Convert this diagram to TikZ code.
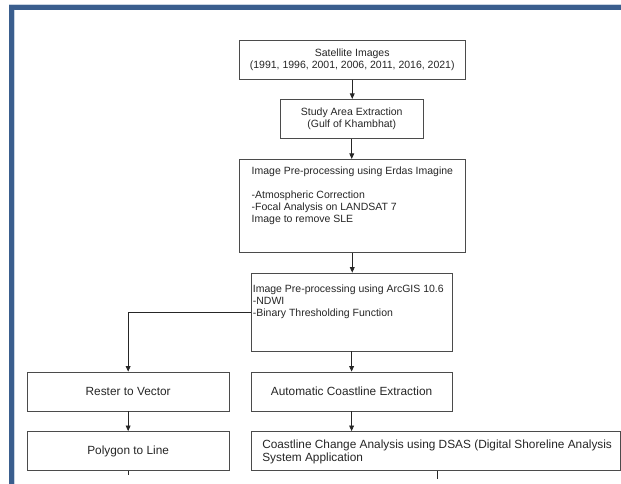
\documentclass[tikz,border=0pt]{standalone}
\usepackage{fontspec}
\setmainfont{Liberation Sans}
\usetikzlibrary{arrows.meta}
\definecolor{frameblue}{RGB}{58,94,142}
\definecolor{framelight}{RGB}{200,212,226}
\definecolor{edgegray}{RGB}{75,75,75}
\definecolor{textgray}{RGB}{38,38,38}
\begin{document}
\begin{tikzpicture}[x=1pt,y=-1pt,
  box/.style={draw=edgegray, line width=0.8pt, inner sep=0pt, text=textgray,
    font=\fontsize{10.5}{12.2}\selectfont},
  bigbox/.style={box, font=\fontsize{11.85}{13.3}\selectfont},
  txt/.style={inner sep=0pt, text=textgray, align=left,
    font=\fontsize{10.5}{12}\selectfont},
  bigtxt/.style={txt, font=\fontsize{11.85}{13.3}\selectfont},
  conn/.style={draw=black!85, line width=0.75pt},
  arr/.style={conn, -{Triangle[length=5.5pt,width=4.8pt]}}]
\useasboundingbox (0,0) rectangle (621,484);
\fill[white] (0,0) rectangle (621,484);
% frame
\draw[framelight, line width=1pt] (9,4.2) -- (621,4.2);
\fill[frameblue] (9,5) rectangle (621,9.6);
\fill[frameblue] (9,5) rectangle (14,484);
\draw[framelight, line width=0.8pt] (14.4,9.6) -- (14.4,484);
% boxes
\node[box, minimum width=226.5pt, minimum height=39pt, align=center] (b1) at (352.25,59.8)
  {Satellite Images\\(1991, 1996, 2001, 2006, 2011, 2016, 2021)};
\node[box, minimum width=143.5pt, minimum height=39.2pt, align=center] (b2) at (351.75,118.9)
  {Study Area Extraction\\(Gulf of Khambhat)};
\node[box, minimum width=226.5pt, minimum height=93.4pt] (b3) at (352.25,206) {};
\node[txt, anchor=north west] (t3) at ([xshift=12.9pt,yshift=-8pt]b3.north west)
  {Image Pre-processing using Erdas Imagine\\[11.5pt]-Atmospheric Correction\\-Focal Analysis on LANDSAT 7\\Image to remove SLE};
\node[box, minimum width=201pt, minimum height=78pt] (b4) at (351.6,312) {};
\node[txt, anchor=north west] (t4) at ([xshift=2pt,yshift=-11.6pt]b4.north west)
  {Image Pre-processing using ArcGIS 10.6\\-NDWI\\-Binary Thresholding Function};
\node[bigbox, minimum width=201.7pt, minimum height=39pt] (b5) at (128.15,391.5) {Rester to Vector};
\node[bigbox, minimum width=201pt, minimum height=39pt] (b6) at (351.6,391.5) {Automatic Coastline Extraction};
\node[bigbox, minimum width=201.7pt, minimum height=39pt] (b7) at (128.15,451) {Polygon to Line};
\node[box, minimum width=369.3pt, minimum height=39pt] (b8) at (435.6,451) {};
\node[bigtxt, anchor=west] (t8) at ([xshift=11.5pt,yshift=-0.6pt]b8.west)
  {Coastline Change Analysis using DSAS (Digital Shoreline Analysis\\System Application};
% connectors
\draw[arr] (b1.south) -- (b1.south |- b2.north);
\draw[arr] (b2.south) -- (b2.south |- b3.north);
\draw[arr] (b3.south) -- (b3.south |- b4.north);
\draw[arr] (b4.south) -- (b6.north);
\draw[arr] (b4.west) -| (b5.north);
\draw[arr] (b5.south) -- (b7.north);
\draw[arr] (b6.south) -- (b6.south |- b8.north);
\coordinate (e7) at (128.15,475);
\coordinate (e8) at (437.3,479);
\draw[conn] (b7.south) -- (e7);
\draw[conn] (b8.south -| e8) -- (e8);
\end{tikzpicture}
\end{document}
